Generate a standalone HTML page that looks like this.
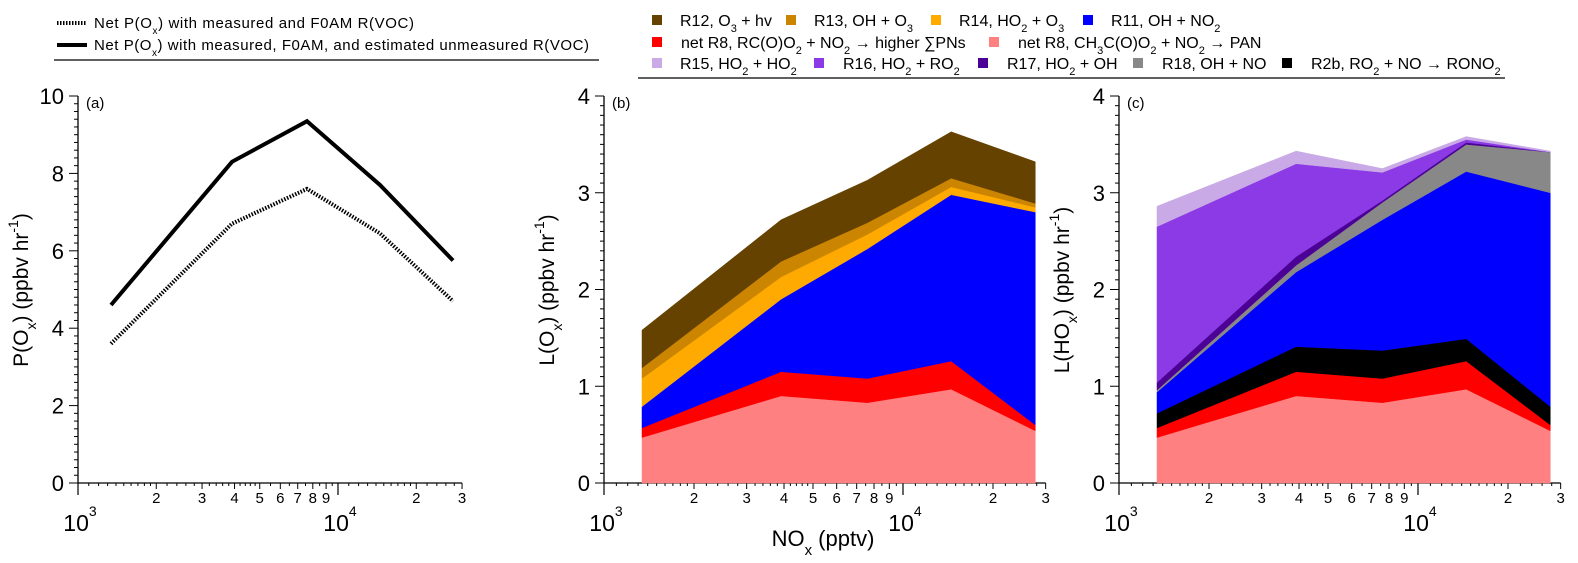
<!DOCTYPE html>
<html><head><meta charset="utf-8"><style>
html,body{margin:0;padding:0;background:#fff;}
svg{display:block;font-family:"Liberation Sans",Arial,sans-serif;}
</style></head><body>
<svg id="fig" width="1578" height="563" viewBox="0 0 1578 563" xmlns="http://www.w3.org/2000/svg">
<g>
 <line x1="57" y1="23" x2="87" y2="23" stroke="#000" stroke-width="4" stroke-dasharray="1.5,1.5"/>
 <text x="94" y="28" font-size="15" textLength="320">Net P(O<tspan baseline-shift="sub" font-size="10">x</tspan>) with measured and F0AM R(VOC)</text>
 <line x1="57" y1="45" x2="87" y2="45" stroke="#000" stroke-width="4"/>
 <text x="94" y="50" font-size="15" textLength="495">Net P(O<tspan baseline-shift="sub" font-size="10">x</tspan>) with measured, F0AM, and estimated unmeasured R(VOC)</text>
 <line x1="54" y1="60" x2="599" y2="60" stroke="#000" stroke-width="1.3"/>
</g>
<g id="legend2"></g>
<g id="panels"></g>
</svg>
<script>
const NS="http://www.w3.org/2000/svg";
const svg=document.getElementById('fig');
const nox=[1340,3910,7600,14500,27700];
const pSolid=[4.6,8.3,9.35,7.7,5.75];
const pDotted=[3.6,6.7,7.6,6.45,4.7];
// panel b layers (individual values, bottom to top)
const bPAN=[0.47,0.90,0.83,0.97,0.54];
const bPNs=[0.10,0.25,0.25,0.29,0.06];
const bR11=[0.22,0.75,1.34,1.72,2.20];
const bR14=[0.29,0.23,0.15,0.08,0.05];
const bR13=[0.11,0.16,0.12,0.09,0.04];
const bR12=[0.39,0.43,0.44,0.48,0.43];
// panel c layers
const cPAN=[0.47,0.90,0.83,0.97,0.54];
const cPNs=[0.10,0.25,0.25,0.29,0.06];
const cR2b=[0.15,0.26,0.29,0.23,0.19];
const cR11=[0.22,0.77,1.35,1.73,2.21];
const cR18=[0.02,0.07,0.18,0.28,0.42];
const cR17=[0.08,0.09,0.02,0.02,0.00];
const cR16=[1.61,0.96,0.29,0.03,0.00];
const cR15=[0.21,0.13,0.04,0.03,0.01];
const legendItems=[
 ["#664200","R12, O<tspan baseline-shift='sub' font-size='11'>3</tspan> + hv",652,680,20],
 ["#cc8500","R13, OH + O<tspan baseline-shift='sub' font-size='11'>3</tspan>",786,814,20],
 ["#ffaa00","R14, HO<tspan baseline-shift='sub' font-size='11'>2</tspan> + O<tspan baseline-shift='sub' font-size='11'>3</tspan>",931,959,20],
 ["#0000ff","R11, OH + NO<tspan baseline-shift='sub' font-size='11'>2</tspan>",1083,1111,20],
 ["#ff0000","net R8, RC(O)O<tspan baseline-shift='sub' font-size='11'>2</tspan> + NO<tspan baseline-shift='sub' font-size='11'>2</tspan> → higher ∑PNs",652,681,42],
 ["#ff8080","net R8, CH<tspan baseline-shift='sub' font-size='11'>3</tspan>C(O)O<tspan baseline-shift='sub' font-size='11'>2</tspan> + NO<tspan baseline-shift='sub' font-size='11'>2</tspan> → PAN",989,1018,42],
 ["#c9a9e6","R15, HO<tspan baseline-shift='sub' font-size='11'>2</tspan> + HO<tspan baseline-shift='sub' font-size='11'>2</tspan>",652,680,63],
 ["#8b3ae6","R16, HO<tspan baseline-shift='sub' font-size='11'>2</tspan> + RO<tspan baseline-shift='sub' font-size='11'>2</tspan>",814,843,63],
 ["#4b0096","R17, HO<tspan baseline-shift='sub' font-size='11'>2</tspan> + OH",978,1007,63],
 ["#888888","R18, OH + NO",1133,1162,63],
 ["#000000","R2b, RO<tspan baseline-shift='sub' font-size='11'>2</tspan> + NO → RONO<tspan baseline-shift='sub' font-size='11'>2</tspan>",1282,1311,63]
];
function el(tag,attrs,parent){const e=document.createElementNS(NS,tag);for(const k in attrs)e.setAttribute(k,attrs[k]);(parent||svg).appendChild(e);return e;}
const lg=document.getElementById('legend2');
legendItems.forEach((it,i)=>{
 const r=el('rect',{x:it[2],y:it[4]-5,width:10,height:10,fill:it[0]},lg);
 
 
 const t=el('text',{x:it[3],y:it[4]+6,'font-size':16},lg);
 t.innerHTML=it[1];
 
 
});
const sep=el('line',{x1:638,y1:78,x2:1505,y2:78,stroke:'#000','stroke-width':1.3},lg);



const panels=document.getElementById('panels');
function makePanel(id,x0,dec,ymax,yminor,title,label){
 const g=el('g',{},panels);
 
 
 const y0=483,yt=96;
 const X=v=>x0+Math.log10(v/1000)*dec;
 const Y=v=>y0-(v/ymax)*(y0-yt);
 const xr=X(30000);
 el('line',{x1:x0,y1:yt,x2:x0,y2:y0,stroke:'#000','stroke-width':1.3},g);
 el('line',{x1:x0,y1:y0,x2:xr,y2:y0,stroke:'#000','stroke-width':1.3},g);
 for(let v=0;v<=ymax+1e-9;v+=yminor){
  const major=Math.abs(v/(ymax===10?2:1)-Math.round(v/(ymax===10?2:1)))<1e-6;
  el('line',{x1:x0-(major?9:4),y1:Y(v),x2:x0,y2:Y(v),stroke:'#000','stroke-width':1},g);
  if(major){const t=el('text',{x:x0-14,y:Y(v)+8,'font-size':22,'text-anchor':'end'},g);t.textContent=Math.round(v);}
 }
 const smalls=[];
 [1000,10000].forEach(d=>{
  for(let k=1.1;k<1.95;k+=0.1)smalls.push(d*k);
  for(let k=2.2;k<4.95;k+=0.2)if(Math.abs(k-Math.round(k))>0.01)smalls.push(d*k);
  for(let k=5.5;k<10;k+=1)smalls.push(d*k);
 });
 smalls.forEach(v=>{if(v<=30000)el('line',{x1:X(v),y1:y0,x2:X(v),y2:y0+3,stroke:'#000','stroke-width':1},g);});
 [1000,10000].forEach(d=>{
  el('line',{x1:X(d),y1:y0,x2:X(d),y2:y0+12,stroke:'#000','stroke-width':1.2},g);
  const t=el('text',{x:X(d)+2,y:531,'font-size':23,'text-anchor':'middle'},g);
  t.innerHTML=(d===1000?'10<tspan font-size="14" dy="-15">3</tspan>':'10<tspan font-size="14" dy="-15">4</tspan>');
  for(let k=2;k<=9;k++){const v=d*k;if(v>30000)break;
   el('line',{x1:X(v),y1:y0,x2:X(v),y2:y0+6,stroke:'#000','stroke-width':1},g);
   const tt=el('text',{x:X(v),y:503,'font-size':15,'text-anchor':'middle'},g);tt.textContent=k;}
 });
 const pl=el('text',{x:x0+8,y:108,'font-size':15},g);pl.textContent=title;
 const yl=el('text',{'font-size':21,'text-anchor':'middle',transform:`translate(${x0-50},290) rotate(-90)`},g);
 yl.innerHTML=label;
 return {g,X,Y};
}
const pa=makePanel('a',78,260,10,0.2,'(a)','P(O<tspan baseline-shift="sub" font-size="14">x</tspan>) (ppbv hr<tspan font-size="14" dy="-10">-1</tspan><tspan dy="10">)</tspan>');
function linePath(p,vals){return vals.map((v,i)=>(i?'L':'M')+p.X(nox[i]).toFixed(1)+','+p.Y(v).toFixed(1)).join(' ');}
const ld=el('path',{d:linePath(pa,pDotted),fill:'none',stroke:'#000','stroke-width':4,'stroke-dasharray':'1.5,1.5'},pa.g);


const ls=el('path',{d:linePath(pa,pSolid),fill:'none',stroke:'#000','stroke-width':4},pa.g);



function stack(p,layers,colors,names){
 let base=nox.map(()=>0);
 layers.forEach((L,li)=>{
  const top=base.map((b,i)=>b+L[i]);
  let d='';
  top.forEach((v,i)=>{d+=(i?'L':'M')+p.X(nox[i]).toFixed(1)+','+p.Y(v).toFixed(1);});
  for(let i=nox.length-1;i>=0;i--)d+='L'+p.X(nox[i]).toFixed(1)+','+p.Y(base[i]).toFixed(1);
  const a=el('path',{d:d+'Z',fill:colors[li],stroke:colors[li],'stroke-width':0.5},p.g);
  
  
  base=top;
 });
}
const pb=makePanel('b',604,299,4,0.1,'(b)','L(O<tspan baseline-shift="sub" font-size="14">x</tspan>) (ppbv hr<tspan font-size="14" dy="-10">-1</tspan><tspan dy="10">)</tspan>');
stack(pb,[bPAN,bPNs,bR11,bR14,bR13,bR12],['#ff8080','#ff0000','#0000ff','#ffaa00','#cc8500','#664200'],['pan','higher-pns','r11','r14','r13','r12']);
const pc=makePanel('c',1119,299,4,0.1,'(c)','L(HO<tspan baseline-shift="sub" font-size="14">x</tspan>) (ppbv hr<tspan font-size="14" dy="-10">-1</tspan><tspan dy="10">)</tspan>');
stack(pc,[cPAN,cPNs,cR2b,cR11,cR18,cR17,cR16,cR15],['#ff8080','#ff0000','#000000','#0000ff','#888888','#4b0096','#8b3ae6','#c9a9e6'],['pan','higher-pns','r2b','r11','r18','r17','r16','r15']);
const xl=el('text',{x:823,y:546,'font-size':22,'text-anchor':'middle'});
xl.innerHTML='NO<tspan baseline-shift="sub" font-size="15">x</tspan> (pptv)';


</script>
</body></html>
